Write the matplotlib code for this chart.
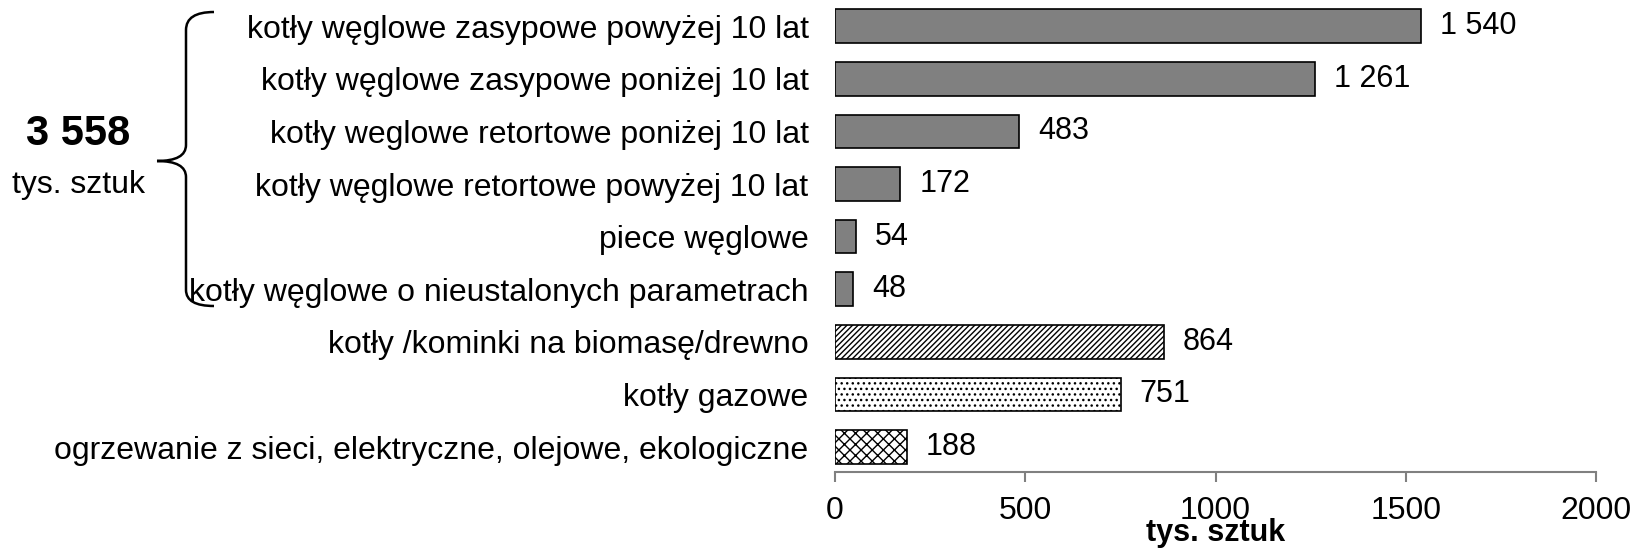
import matplotlib.pyplot as plt
from matplotlib.path import Path
from matplotlib.patches import PathPatch

categories = [
    "kotły węglowe zasypowe powyżej 10 lat",
    "kotły węglowe zasypowe poniżej 10 lat",
    "kotły weglowe retortowe poniżej 10 lat",
    "kotły węglowe retortowe powyżej 10 lat",
    "piece węglowe",
    "kotły węglowe o nieustalonych parametrach",
    "kotły /kominki na biomasę/drewno",
    "kotły gazowe",
    "ogrzewanie z sieci, elektryczne, olejowe, ekologiczne",
]
values = [1540, 1261, 483, 172, 54, 48, 864, 751, 188]
total_coal = "3 558"
unit = "tys. sztuk"
xticks = [0, 500, 1000, 1500, 2000]

plt.rcParams['font.family'] = ['Liberation Sans', 'DejaVu Sans']
plt.rcParams['hatch.linewidth'] = 1.0
W, H = 1639, 549
fig = plt.figure(figsize=(W / 100, H / 100), dpi=100)
ax = fig.add_axes([835 / W, 1 - 472 / H, (1596 - 835) / W, 472 / H])

styles = [("#808080", None)] * 6 + [("white", "//////"), ("white", "..."), ("white", "xxx")]
for i, (v, (fc, hatch)) in enumerate(zip(values, styles)):
    ax.barh(i, v, height=0.64, color=fc, edgecolor="black", linewidth=1.2, hatch=hatch)
    ax.text(v + 50, i, f"{v:,}".replace(",", " "), va="center", ha="left", fontsize=22)

ax.set_ylim(8.475, -0.5)
ax.set_xlim(0, 2000)
ax.set_yticks(range(len(categories)))
ax.set_yticklabels(categories, fontsize=23)
ax.tick_params(axis="y", length=0, pad=19)
ax.set_xticks(xticks)
ax.set_xticklabels([str(t) for t in xticks], fontsize=23)
ax.tick_params(axis="x", direction="out", length=7.2, color="#808080", width=1.5, pad=10)
for s in ["top", "right", "left"]:
    ax.spines[s].set_visible(False)
ax.spines["bottom"].set_color("#808080")
ax.spines["bottom"].set_linewidth(1.5)

fig.text(1216 / W, 1 - 533 / H, unit, ha="center", va="center", fontsize=22, fontweight="bold")

# brace around the coal group
def fp(x, y):
    return (x / W, 1 - y / H)

verts = [fp(214, 12), fp(186, 12), fp(186, 30),
         fp(186, 145),
         fp(186, 161), fp(157, 161),
         fp(186, 161), fp(186, 177),
         fp(186, 290),
         fp(186, 306), fp(214, 306)]
codes = [Path.MOVETO, Path.CURVE3, Path.CURVE3,
         Path.LINETO,
         Path.CURVE3, Path.CURVE3,
         Path.CURVE3, Path.CURVE3,
         Path.LINETO,
         Path.CURVE3, Path.CURVE3]
fig.patches.append(PathPatch(Path(verts, codes), transform=fig.transFigure,
                             fill=False, lw=1.8, edgecolor="black"))

fig.text(78 / W, 1 - 134 / H, total_coal, ha="center", va="center", fontsize=30, fontweight="bold")
fig.text(78 / W, 1 - 185 / H, unit, ha="center", va="center", fontsize=23)

fig.savefig("out.png", dpi=100)
